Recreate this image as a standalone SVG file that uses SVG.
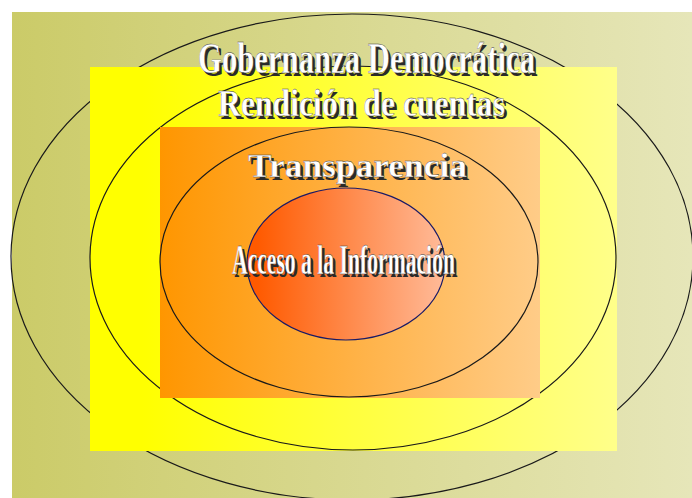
<svg xmlns="http://www.w3.org/2000/svg" width="692" height="498" viewBox="0 0 692 498">
<defs>
<linearGradient id="gBg" x1="0" y1="0" x2="1" y2="0"><stop offset="0" stop-color="#cbcb68"/><stop offset="1" stop-color="#e6e6b9"/></linearGradient>
<linearGradient id="gY" x1="0" y1="0" x2="1" y2="0"><stop offset="0.1" stop-color="#ffff00"/><stop offset="1" stop-color="#ffff8a"/></linearGradient>
<linearGradient id="gO" x1="0" y1="0" x2="1" y2="0"><stop offset="0" stop-color="#ff9600"/><stop offset="1" stop-color="#ffcc88"/></linearGradient>
<linearGradient id="gC" x1="0" y1="0" x2="1" y2="0"><stop offset="0.05" stop-color="#ff5a00"/><stop offset="1" stop-color="#ffbb99"/></linearGradient>
</defs>
<style>
.ring{fill:none;stroke:#1a1a1a;stroke-width:1.2}
.t{font-family:"Liberation Serif",serif;font-weight:bold;}
.sh{fill:#2a2a2a}
.fg{fill:#ffffff;stroke:#333333;stroke-width:0.3}
</style>
<rect x="0" y="0" width="692" height="498" fill="#ffffff"/>
<g id="gobernanza">
<rect x="12" y="12" width="680" height="486" fill="url(#gBg)"/>
<ellipse class="ring" cx="352" cy="257" rx="341" ry="243"/>
</g>
<g id="rendicion">
<rect x="90" y="67" width="527" height="384" fill="url(#gY)"/>
<ellipse class="ring" cx="353" cy="258" rx="263" ry="192"/>
</g>
<g id="transparencia">
<rect x="160" y="127" width="380" height="271" fill="url(#gO)"/>
<ellipse class="ring" cx="349" cy="262" rx="189" ry="135"/>
</g>
<g id="acceso">
<ellipse cx="346" cy="264" rx="99" ry="76" fill="url(#gC)" stroke="#1a1a66" stroke-width="1.2"/>
</g>
<g id="labels">
<text class="t sh" x="200.5" y="75.5" font-size="44" textLength="337" lengthAdjust="spacingAndGlyphs">Gobernanza Democrática</text>
<text class="t fg" x="198" y="73" font-size="44" textLength="337" lengthAdjust="spacingAndGlyphs">Gobernanza Democrática</text>
<text class="t sh" x="220.5" y="118.5" font-size="38" textLength="287" lengthAdjust="spacingAndGlyphs">Rendición de cuentas</text>
<text class="t fg" x="218" y="116" font-size="38" textLength="287" lengthAdjust="spacingAndGlyphs">Rendición de cuentas</text>
<text class="t sh" x="250.5" y="179.5" font-size="34" textLength="219" lengthAdjust="spacingAndGlyphs">Transparencia</text>
<text class="t fg" x="248" y="177" font-size="34" textLength="219" lengthAdjust="spacingAndGlyphs">Transparencia</text>
<text class="t sh" x="234.5" y="276.5" font-size="42" textLength="223" lengthAdjust="spacingAndGlyphs">Acceso a la Información</text>
<text class="t fg" x="232" y="274" font-size="42" textLength="223" lengthAdjust="spacingAndGlyphs">Acceso a la Información</text>
</g>
</svg>
